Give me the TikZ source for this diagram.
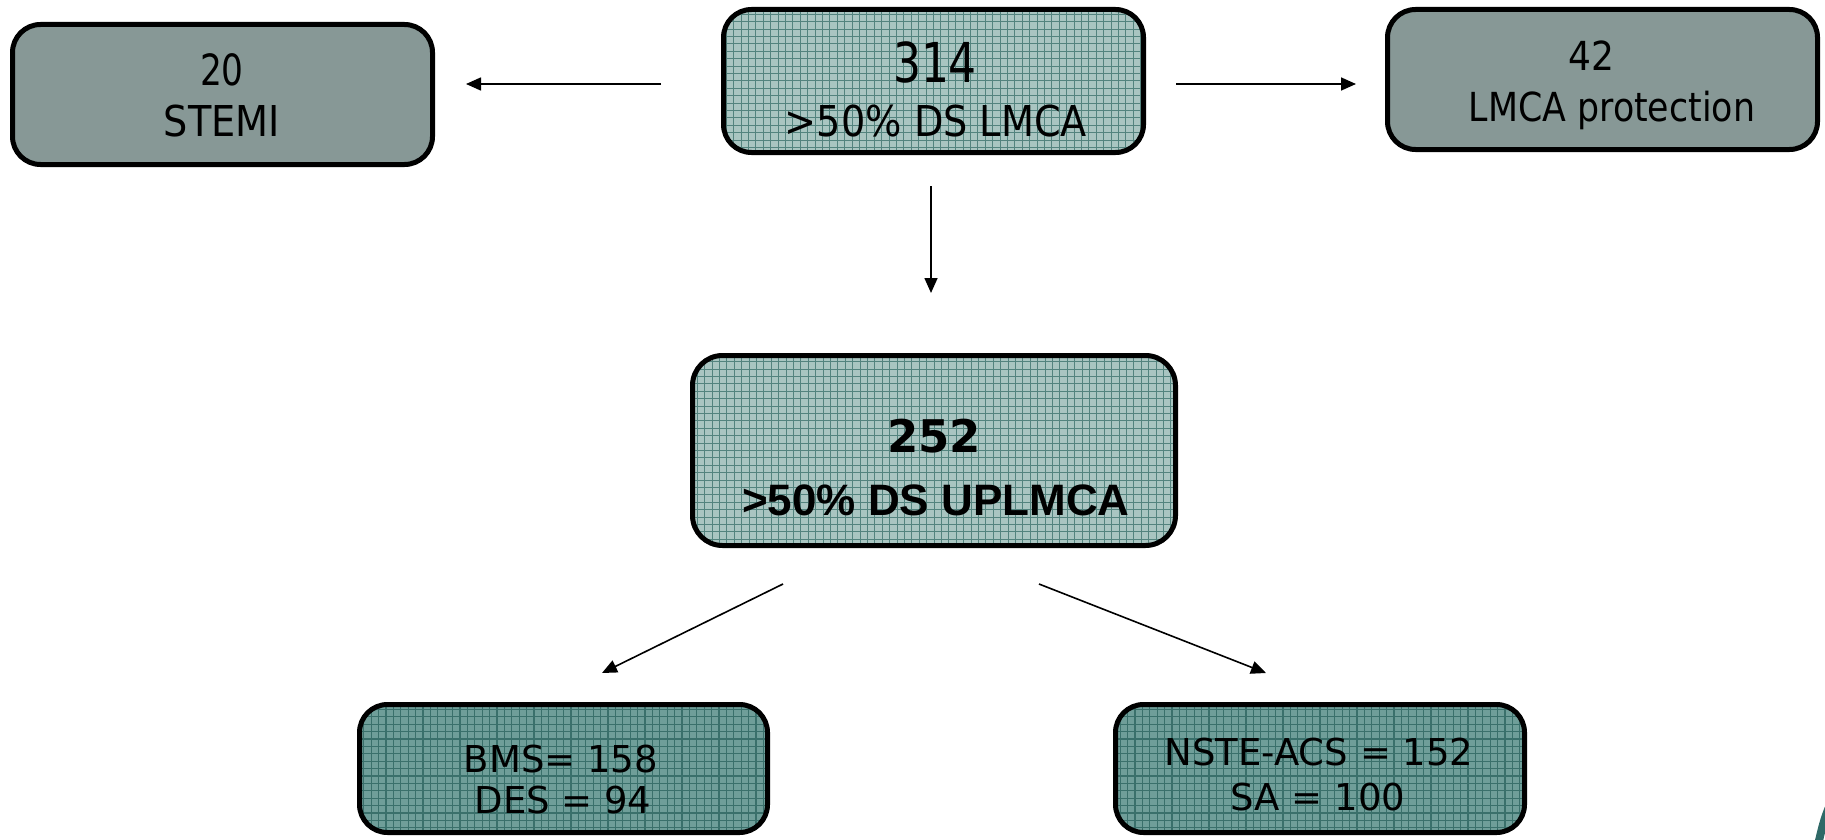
\documentclass[tikz,border=0pt]{standalone}
\usepackage{fontspec}
\setmainfont{DejaVu Sans}
\newfontfamily\numfont[FakeStretch=0.80]{DejaVu Sans}
\newfontfamily\narrowA[FakeStretch=0.87]{DejaVu Sans}
\newfontfamily\narrowB[FakeStretch=0.90]{DejaVu Sans}
\newfontfamily\arialf{Liberation Sans}
\usetikzlibrary{arrows.meta,calc}
\definecolor{plainfill}{HTML}{879896}
\definecolor{lightteal}{HTML}{A9C5C1}
\definecolor{lightline}{HTML}{53837E}
\definecolor{darkteal}{HTML}{6F9E99}
\definecolor{darkline}{HTML}{3A706B}
\definecolor{decor}{HTML}{2F6967}
\tikzset{
  box/.style={draw=black, line width=2.5pt, rounded corners=14pt, inner sep=0pt},
  plainbox/.style={box, fill=plainfill},
  gridbox/.style={box, fill=lightteal, path picture={
      \draw[lightline, line width=0.5pt, step=3.7pt]
        (path picture bounding box.south west) grid (path picture bounding box.north east);}},
  darkbox/.style={box, fill=darkteal, path picture={
      \draw[darkline, line width=0.6pt, step=3.7pt]
        (path picture bounding box.south west) grid (path picture bounding box.north east);}},
  txt/.style={anchor=base, inner sep=0pt, text=black},
  arr/.style={draw=black, line width=0.8pt, -{Triangle[length=7.5pt, width=6.5pt]}}
}
\begin{document}
\begin{tikzpicture}[x=0.5pt,y=-0.5pt]
\useasboundingbox (0,0) rectangle (1825,840);
% boxes
\node[plainbox, minimum width=210pt, minimum height=70pt] (stemi) at (222.5,94.5) {};
\node[gridbox, minimum width=210pt, minimum height=71.5pt] (top) at (933.5,81) {};
\node[plainbox, minimum width=215pt, minimum height=70pt] (prot) at (1602.5,79.5) {};
\node[gridbox, rounded corners=15pt, minimum width=241.5pt, minimum height=95pt] (mid) at (934,450.5) {};
\node[darkbox, minimum width=204pt, minimum height=64pt] (bl) at (563.5,768.5) {};
\node[darkbox, minimum width=204.5pt, minimum height=64pt] (br) at (1320,768.5) {};
% texts
\node[txt, font=\numfont\fontsize{21.5}{24}\selectfont] (t20) at (222,86) {20};
\node[txt, font=\narrowB\fontsize{21.25}{24}\selectfont] (tstemi) at (222,137) {STEMI};
\node[txt, font=\numfont\fontsize{27.5}{30}\selectfont] (t314) at (935,83) {314};
\node[txt, font=\narrowB\fontsize{21.25}{24}\selectfont] (tds) at (936,136) {>50\% DS LMCA};
\node[txt, font=\narrowB\fontsize{20}{22}\selectfont] (t42) at (1591,71) {42};
\node[txt, font=\narrowA\fontsize{20}{22}\selectfont] (tprot) at (1612,122) {LMCA protection};
\node[txt, font=\bfseries\fontsize{22.5}{26}\selectfont] (t252) at (934,452) {252};
\node[txt, font=\arialf\bfseries\fontsize{22}{26}\selectfont] (tup) at (936,515) {>50\% DS UPLMCA};
\node[txt, font=\fontsize{18.5}{22}\selectfont] (tbms) at (561,772) {BMS= 158};
\node[txt, font=\fontsize{18.5}{22}\selectfont] (tdes) at (563,813) {DES = 94};
\node[txt, font=\fontsize{18.5}{22}\selectfont] (tnste) at (1319,765) {NSTE-ACS = 152};
\node[txt, font=\fontsize{18.5}{22}\selectfont] (tsa) at (1318,810) {SA = 100};
% arrow end points (free ends)
\coordinate (aLs) at (661,84);
\coordinate (aLe) at (466,84);
\coordinate (aRs) at (1176,84);
\coordinate (aRe) at (1356,84);
\coordinate (aDs) at (931,186);
\coordinate (aDe) at (931,293);
\coordinate (aBLs) at (783,584);
\coordinate (aBLe) at (602,673);
\coordinate (aBRs) at (1039,584);
\coordinate (aBRe) at (1266,673);
\draw[arr] (aLs) -- (aLe);
\draw[arr] (aRs) -- (aRe);
\draw[arr] (aDs) -- (aDe);
\draw[arr] (aBLs) -- (aBLe);
\draw[arr] (aBRs) -- (aBRe);
% corner decoration
\draw[decor, line width=4pt] (1818,845) .. controls (1821,832) and (1824,818) .. (1830,805);
\end{tikzpicture}
\end{document}
